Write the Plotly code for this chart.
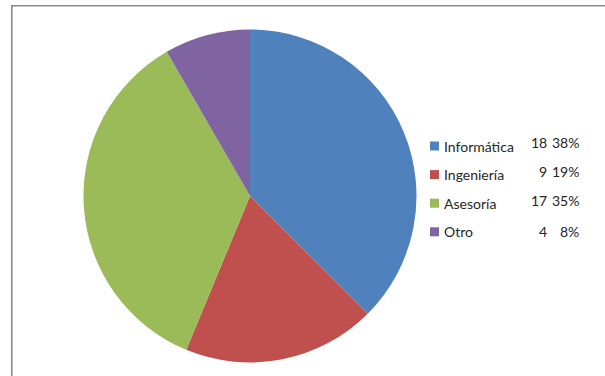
import plotly.graph_objects as go

# Distribution by area
categories = ["Informática", "Ingeniería", "Asesoría", "Otro"]
counts = [18, 9, 17, 4]
percent_labels = ["38%", "19%", "35%", "8%"]
colors = ["#4F81BD", "#C0504D", "#9BBB59", "#8064A2"]

W, H = 605, 376
FONT = "Lato, 'Liberation Sans', Arial, sans-serif"
TEXT_COLOR = "#262626"


def px_x(x):
    return x / W


def px_y(y):
    return 1 - y / H


fig = go.Figure()

# Pie: centre (250, 196) px, diameter 333 px
cx, cy, d = 250, 196, 333
fig.add_trace(go.Pie(
    labels=categories,
    values=counts,
    marker=dict(colors=colors, line=dict(width=0)),
    sort=False,
    direction="clockwise",
    rotation=0,
    textinfo="none",
    hoverinfo="label+value+percent",
    showlegend=False,
    domain=dict(x=[px_x(cx - d / 2), px_x(cx + d / 2)],
                y=[px_y(cy + d / 2), px_y(cy - d / 2)]),
))

shapes = []
annotations = []

# Chart frame (top and left edges visible)
shapes.append(dict(type="rect", xref="paper", yref="paper",
                   x0=px_x(11.8), x1=1.2, y0=-0.2, y1=px_y(5.8),
                   line=dict(color="#8a8a8a", width=1.6),
                   fillcolor="rgba(0,0,0,0)"))

# Legend with counts and percentages
row_y0, row_step = 146, 28.6
for i, (cat, n, pct, col) in enumerate(zip(categories, counts, percent_labels, colors)):
    yc = row_y0 + i * row_step
    shapes.append(dict(type="rect", xref="paper", yref="paper",
                       x0=px_x(430), x1=px_x(439),
                       y0=px_y(yc + 4.5), y1=px_y(yc - 4.5),
                       fillcolor=col, line=dict(width=0)))
    annotations.append(dict(xref="paper", yref="paper", x=px_x(442), y=px_y(yc),
                            text=cat, showarrow=False, xanchor="left", yanchor="middle",
                            font=dict(family=FONT, size=14, color=TEXT_COLOR)))
    vy = yc - (3 if i < 3 else 0)
    annotations.append(dict(xref="paper", yref="paper", x=px_x(549), y=px_y(vy),
                            text=str(n), showarrow=False, xanchor="right", yanchor="middle",
                            font=dict(family=FONT, size=14, color=TEXT_COLOR)))
    annotations.append(dict(xref="paper", yref="paper", x=px_x(581), y=px_y(vy),
                            text=pct, showarrow=False, xanchor="right", yanchor="middle",
                            font=dict(family=FONT, size=14, color=TEXT_COLOR)))

fig.update_layout(
    width=W, height=H,
    margin=dict(l=0, r=0, t=0, b=0),
    paper_bgcolor="white",
    plot_bgcolor="white",
    shapes=shapes,
    annotations=annotations,
)

fig.write_html("out.html")
